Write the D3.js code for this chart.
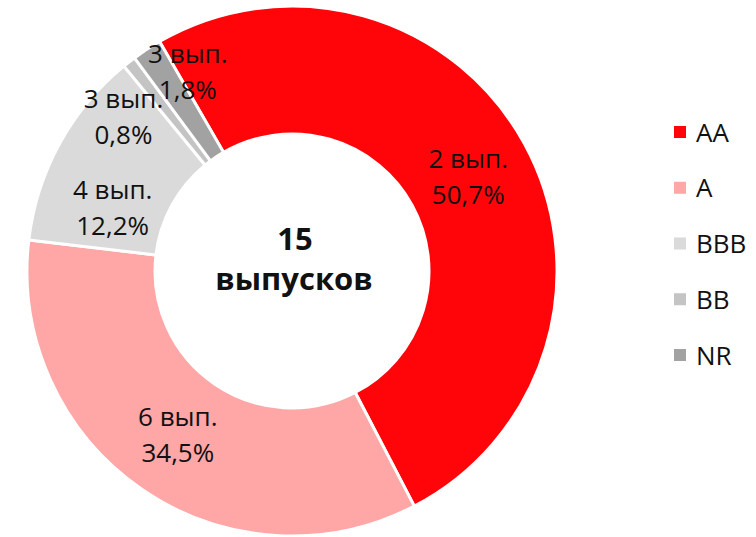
<!DOCTYPE html>
<html>
<head>
<meta charset="utf-8">
<script src="https://cdn.jsdelivr.net/npm/d3@7"></script>
<style>
  html, body { margin: 0; padding: 0; background: #fff; }
  svg { display: block; }
</style>
</head>
<body>
<svg id="chart" width="756" height="537"></svg>
<script>
// ---- data ----
const categories = ["AA", "A", "BBB", "BB", "NR"];
const shares = [50.7, 34.5, 12.2, 0.8, 1.8];
const issueCounts = [2, 6, 4, 3, 3];
const shareLabels = ["50,7%", "34,5%", "12,2%", "0,8%", "1,8%"];
const totalIssues = 15;
const centerLabel = "выпусков";

// ---- style / layout ----
const colors = ["#ff0509", "#ffa6a6", "#dadada", "#c4c4c4", "#a2a2a2"];
const labelShift = [[0, 0], [0, -4], [-3, 30], [-45, 2], [6, -34]];
const font = "'Open Sans', 'Noto Sans', sans-serif";

const svg = d3.select("#chart");
const cx = 292, cy = 271, outerR = 265, innerR = 137;
const g = svg.append("g").attr("transform", `translate(${cx},${cy})`);

const start = -30 * Math.PI / 180;
const pie = d3.pie().sort(null).value(d => d.v)
  .startAngle(start).endAngle(start + 2 * Math.PI);
const data = categories.map((c, i) => ({ c, v: shares[i], i }));
const arcs = pie(data);
const arc = d3.arc().innerRadius(innerR).outerRadius(outerR);

g.selectAll("path.slice").data(arcs).enter().append("path")
  .attr("class", "slice")
  .attr("d", arc)
  .attr("fill", d => colors[d.data.i])
  .attr("stroke", "#fff")
  .attr("stroke-width", 3)
  .attr("stroke-linejoin", "miter");

const lbl = g.selectAll("g.lbl").data(arcs).enter().append("g")
  .attr("class", "lbl")
  .attr("transform", d => {
    const [x, y] = arc.centroid(d);
    const s = labelShift[d.data.i];
    return `translate(${x + s[0]},${y + s[1]})`;
  });
lbl.append("text")
  .attr("text-anchor", "middle").attr("y", -6)
  .style("font-family", font).style("font-size", "26px").attr("fill", "#111")
  .text(d => `${issueCounts[d.data.i]} вып.`);
lbl.append("text")
  .attr("text-anchor", "middle").attr("y", 30)
  .style("font-family", font).style("font-size", "26px").attr("fill", "#111")
  .text(d => shareLabels[d.data.i]);

// center
g.append("text").attr("text-anchor", "middle").attr("x", 3).attr("y", -21)
  .style("font-family", font).style("font-size", "31px").style("font-weight", "bold")
  .attr("fill", "#111").text(totalIssues);
g.append("text").attr("text-anchor", "middle").attr("x", 2).attr("y", 19)
  .style("font-family", font).style("font-size", "31px").style("font-weight", "bold")
  .attr("fill", "#111").text(centerLabel);

// legend
const ly = d3.scalePoint().domain(categories).range([132, 355]);
const leg = svg.append("g").selectAll("g").data(categories).enter().append("g")
  .attr("transform", c => `translate(674,${ly(c)})`);
leg.append("rect").attr("x", 0).attr("y", -6).attr("width", 12).attr("height", 12)
  .attr("fill", (c, i) => colors[i]);
leg.append("text").attr("x", 22).attr("y", 9.5)
  .style("font-family", font).style("font-size", "26px").attr("fill", "#111")
  .text(c => c);
</script>
</body>
</html>
